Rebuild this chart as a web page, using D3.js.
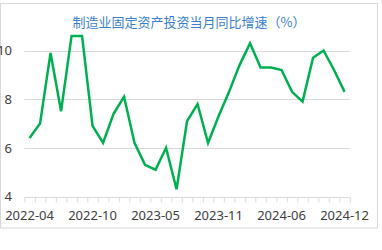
<!DOCTYPE html>
<html><head><meta charset="utf-8">
<script src="https://cdn.jsdelivr.net/npm/d3@7"></script>
<style>
html,body{margin:0;padding:0;background:#fff;}
svg{display:block;}
</style></head>
<body>
<svg id="c" width="382" height="250"></svg>
<script>
const months = ["2022-04","2022-05","2022-06","2022-07","2022-08","2022-09","2022-10","2022-11","2022-12",
"2023-02","2023-03","2023-04","2023-05","2023-06","2023-07","2023-08","2023-09","2023-10","2023-11","2023-12",
"2024-02","2024-03","2024-04","2024-05","2024-06","2024-07","2024-08","2024-09","2024-10","2024-11","2024-12"];
const values = [6.4,7.0,9.9,7.5,10.6,10.6,6.9,6.2,7.4,8.1,6.2,5.3,5.1,6.0,4.3,7.1,7.8,6.2,7.3,8.3,9.4,10.3,9.3,9.3,9.2,8.3,7.9,9.7,10.0,9.2,8.3];
const xLabels = ["2022-04","2022-10","2023-05","2023-11","2024-06","2024-12"];
const yTicks = [4,6,8,10];
const title = "制造业固定资产投资当月同比增速（%）";

(function(){
const svg = d3.select("#c");
const pl = 24.3, pr = 349.8, pt = 50.5, pb = 196.5;
const font = "'Noto Sans','Open Sans',sans-serif";

svg.append("rect").attr("x",0.5).attr("y",3.5).attr("width",377).attr("height",224.5)
  .attr("fill","#fff").attr("stroke","#d9d9d9").attr("stroke-width",1);

const x = d3.scaleBand().domain(months).range([pl,pr]).padding(0);
const xi = d3.scaleLinear().domain([0,months.length]).range([pl,pr]);
const y = d3.scaleLinear().domain([4,10]).range([pb,pt]);

svg.append("g").selectAll("line").data(yTicks.filter(d=>d>4)).join("line")
  .attr("x1",pl).attr("x2",pr)
  .attr("y1",d=>Math.round(y(d))+0.5).attr("y2",d=>Math.round(y(d))+0.5)
  .attr("stroke","#d9d9d9").attr("stroke-width",1);

const gx = svg.append("g").attr("transform",`translate(0,${Math.round(pb)+0.5})`)
  .call(d3.axisBottom(xi).tickValues(d3.range(months.length+1)).tickSize(5).tickFormat(""));
gx.select(".domain").attr("stroke","#d9d9d9").attr("d",`M${pl},0H${pr}`);
gx.selectAll(".tick line").attr("stroke","#d9d9d9");

const gl = svg.append("g").attr("transform",`translate(0,${pb})`)
  .call(d3.axisBottom(x).tickValues(xLabels).tickSize(0).tickPadding(14));
gl.select(".domain").remove();
gl.selectAll("text").attr("font-family",font).attr("font-size",13).attr("fill","#404040");

const gy = svg.append("g").attr("transform",`translate(12,0)`)
  .call(d3.axisLeft(y).tickValues(yTicks).tickFormat(d3.format("d")).tickSize(0).tickPadding(0));
gy.select(".domain").remove();
gy.selectAll("text").attr("font-family",font).attr("font-size",13).attr("fill","#404040");

const line = d3.line().x((d,i)=>x(months[i])+x.bandwidth()/2).y(d=>y(d));
svg.append("path").datum(values).attr("d",line).attr("fill","none")
  .attr("stroke","#00b050").attr("stroke-width",2.5).attr("stroke-linejoin","miter");

svg.append("text").attr("x",189).attr("y",27).attr("text-anchor","middle")
  .attr("font-family","'Noto Sans CJK SC',sans-serif").attr("font-size",13)
  .attr("fill","#3a7fce").text(title);
})();
</script>
</body></html>
